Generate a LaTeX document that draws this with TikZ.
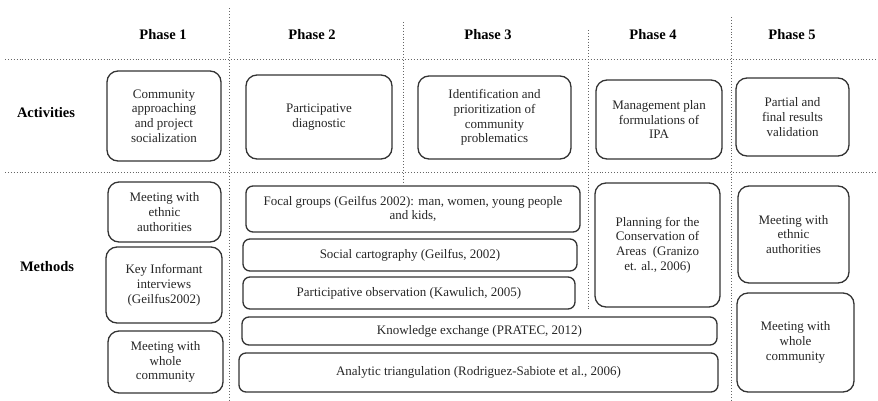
\documentclass[tikz,border=0pt]{standalone}
\usepackage{fontspec}
\setmainfont{Liberation Serif}
\begin{document}
\begin{tikzpicture}[x=1pt,y=-1pt,
  txt/.style={font=\fontsize{13}{14.8}\selectfont, align=center, text=black!85},
  box/.style={txt, draw=black!80, line width=1.3pt, rounded corners=11pt, inner sep=0pt},
  thinbox/.style={box, rounded corners=7pt},
  head/.style={font=\fontsize{14.5}{16}\selectfont\bfseries, text=black},
  grid/.style={draw=black!60, dotted, line width=0.9pt}]
\useasboundingbox (0,0) rectangle (878,400);

% dotted grid
\draw[grid] (5,59) -- (878,59);
\draw[grid] (5,172) -- (878,172);
\draw[grid] (229,8) -- (229,400);
\draw[grid] (403,22) -- (403,182);
\draw[grid] (588,30) -- (588,310);
\draw[grid] (731,17) -- (731,400);

% column and row headings
\node[head] (p1) at (163,35) {Phase 1};
\node[head] (p2) at (312,35) {Phase 2};
\node[head] (p3) at (488,35) {Phase 3};
\node[head] (p4) at (653,35) {Phase 4};
\node[head] (p5) at (792,35) {Phase 5};
\node[head] (act) at (46,113) {Activities};
\node[head] (met) at (47,267) {Methods};

% activities
\node[box, minimum width=114pt, minimum height=90pt] (a1) at (164,116)
  {Community\\approaching\\and project\\socialization};
\node[box, minimum width=146pt, minimum height=84pt] (a2) at (319,117)
  {Participative\\diagnostic};
\node[box, minimum width=153pt, minimum height=83pt] (a3) at (494.5,117.5)
  {Identification and\\prioritization of\\community\\problematics};
\node[box, minimum width=126pt, minimum height=79pt] (a4) at (659,119.5)
  {Management plan\\formulations of\\IPA};
\node[box, minimum width=113pt, minimum height=78pt] (a5) at (792.5,117)
  {Partial and\\final results\\validation};

% methods, phase 1
\node[box, minimum width=113pt, minimum height=60pt] (m1a) at (164.5,212)
  {Meeting with\\ethnic\\authorities};
\node[box, minimum width=116pt, minimum height=76pt] (m1b) at (164,285)
  {Key Informant\\interviews\\(Geilfus2002)};
\node[box, minimum width=115pt, minimum height=62pt] (m1c) at (165.5,362)
  {Meeting with\\whole\\community};

% methods, phases 2--4
\node[thinbox, minimum width=334pt, minimum height=46pt] (fg) at (413,209)
  {Focal groups (Geilfus 2002): man, women, young people\\and kids,};
\node[thinbox, minimum width=334pt, minimum height=32pt] (sc) at (410,255)
  {Social cartography (Geilfus, 2002)};
\node[thinbox, minimum width=332pt, minimum height=32pt] (po) at (409,293)
  {Participative observation (Kawulich, 2005)};
\node[thinbox, minimum width=475pt, minimum height=28pt] (ke) at (479.5,331)
  {Knowledge exchange (PRATEC, 2012)};
\node[thinbox, minimum width=479pt, minimum height=39pt] (at) at (478.5,372.5)
  {Analytic triangulation (Rodriguez-Sabiote et al., 2006)};
\node[box, minimum width=125pt, minimum height=124pt] (pc) at (657.5,245)
  {Planning for the\\Conservation of\\Areas~ (Granizo\\et. al., 2006)};

% methods, phase 5
\node[box, minimum width=111pt, minimum height=97pt] (m5a) at (793.5,234.5)
  {Meeting with\\ethnic\\authorities};
\node[box, minimum width=117pt, minimum height=99pt] (m5b) at (795.5,342.5)
  {Meeting with\\whole\\community};
\end{tikzpicture}
\end{document}
